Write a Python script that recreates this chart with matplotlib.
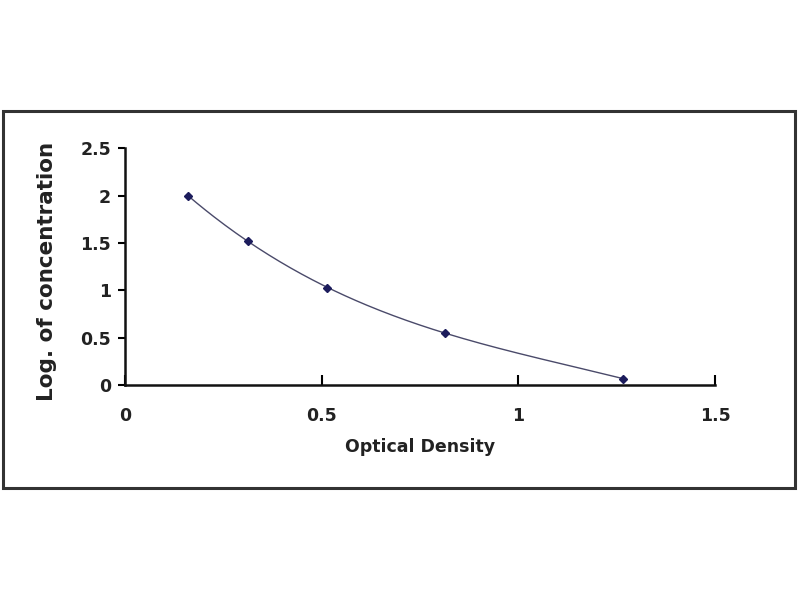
import numpy as np
import matplotlib
matplotlib.use("Agg")
import matplotlib.pyplot as plt
from matplotlib.patches import Rectangle

od = [0.16, 0.313, 0.514, 0.814, 1.265]
logc = [2.0, 1.52, 1.03, 0.55, 0.07]
xticks = [0, 0.5, 1, 1.5]
xticklabels = ["0", "0.5", "1", "1.5"]
yticks = [0, 0.5, 1, 1.5, 2, 2.5]
yticklabels = ["0", "0.5", "1", "1.5", "2", "2.5"]

plt.rcParams['font.family'] = ['DejaVu Sans']

fig = plt.figure(figsize=(8, 6), dpi=100)
fig.patch.set_facecolor('white')
fig.patches.append(Rectangle((0.004, 0.187), 0.99, 0.628, transform=fig.transFigure,
                             fill=False, edgecolor='#333333', linewidth=2.2))

ax = fig.add_axes([0.156, 0.358, 0.738, 0.395])
# fitted trend curve
coef = np.polyfit(od, logc, 3)
xs = np.linspace(min(od), max(od), 200)
ax.plot(xs, np.polyval(coef, xs), color='#4a4a6a', linewidth=1.0)
ax.plot(od, logc, linestyle='none', marker='D', markersize=4.5, color='#1c1c5c')

ax.set_xlim(0, 1.5)
ax.set_ylim(0, 2.5)
ax.set_xticks(xticks)
ax.set_xticklabels(xticklabels)
ax.set_yticks(yticks)
ax.set_yticklabels(yticklabels)
for s in ['top', 'right']:
    ax.spines[s].set_visible(False)
for s in ['left', 'bottom']:
    ax.spines[s].set_linewidth(1.8)
    ax.spines[s].set_color('#111111')
ax.tick_params(axis='y', direction='out', length=5, width=1.5, labelsize=12.5, pad=5)
ax.tick_params(axis='x', direction='in', length=7, width=1.5, labelsize=12.5, pad=16)
for lab in ax.get_xticklabels() + ax.get_yticklabels():
    lab.set_fontweight('bold')
    lab.set_color('#222222')
ax.set_xlabel('Optical Density', fontsize=12.5, fontweight='bold', color='#222222', labelpad=9)
ax.set_ylabel('Log. of concentration', fontsize=15.5, fontweight='bold', color='#222222')
ax.yaxis.set_label_coords(-0.114, 0.48)
ax.patch.set_alpha(0)

fig.savefig('out.png', dpi=100, facecolor='white')
